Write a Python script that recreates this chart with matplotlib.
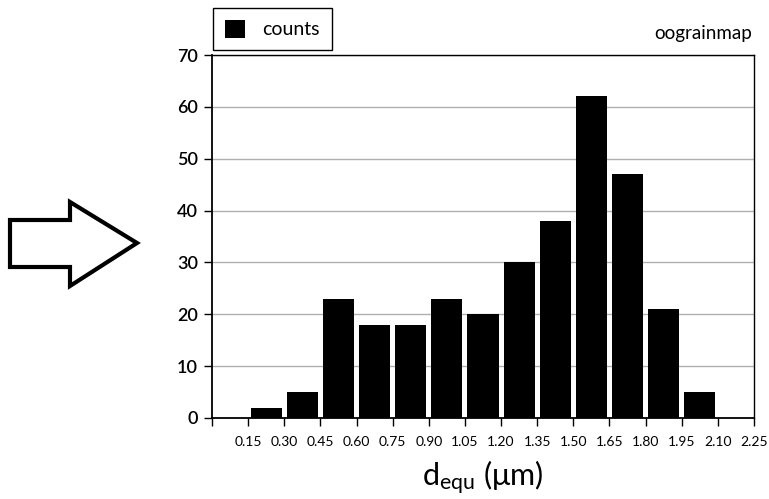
import matplotlib
matplotlib.use("Agg")
import matplotlib.pyplot as plt
import numpy as np
from matplotlib.patches import Polygon

# histogram bins (left edges) and counts
bin_left = [0.15, 0.30, 0.45, 0.60, 0.75, 0.90, 1.05, 1.20, 1.35, 1.50, 1.65, 1.80, 1.95, 2.10]
counts = [2, 5, 23, 18, 18, 23, 20, 30, 38, 62, 47, 21, 5, 0]
xticks = [0.0, 0.15, 0.30, 0.45, 0.60, 0.75, 0.90, 1.05, 1.20, 1.35, 1.50, 1.65, 1.80, 1.95, 2.10, 2.25]
xtick_labels = [""] + ["%.2f" % v for v in xticks[1:]]
yticks = [0, 10, 20, 30, 40, 50, 60, 70]

binw = 0.15
plt.rcParams['font.family'] = ['Lato', 'DejaVu Sans']

W, H = 769, 499
fig = plt.figure(figsize=(W/100, H/100), dpi=100)
ax = fig.add_axes([212/W, 1-418/H, (754-212)/W, (418-55)/H])

centers = np.array(bin_left) + binw/2
ax.bar(centers, counts, width=binw*0.86, color='black', label='counts', zorder=3)

ax.set_xlim(0, 2.25)
ax.set_ylim(0, 70)
ax.set_xticks(xticks)
ax.set_xticklabels(xtick_labels, fontsize=10)
ax.set_yticks(yticks)
ax.set_yticklabels([str(v) for v in yticks], fontsize=13, fontweight='semibold')
ax.tick_params(direction='out', length=6, width=1, colors='black')
ax.tick_params(axis='x', pad=7)
ax.tick_params(axis='y', pad=4)
ax.yaxis.grid(True, color='#b0b0b0', linewidth=1, zorder=0)
for s in ax.spines.values():
    s.set_linewidth(1)
ax.spines['left'].set_linewidth(1.3)
ax.spines['bottom'].set_linewidth(1.3)

ax.set_xlabel(r'$\mathregular{d_{equ}}$ (μm)', fontsize=22, labelpad=8)

leg = ax.legend(loc='upper left', bbox_to_anchor=(213/W, 1-8/H), bbox_transform=fig.transFigure,
                fancybox=False, edgecolor='black', framealpha=1, fontsize=14,
                handlelength=1.05, handleheight=1.05, borderpad=0.6, handletextpad=0.9,
                borderaxespad=0)
leg.get_frame().set_linewidth(1)

fig.text(752/W, 1-33/H, 'oograinmap', ha='right', va='center', fontsize=13.5)

# hollow arrow on the left
arrow_px = [(10, 220), (70, 220), (70, 202), (137, 243), (70, 286), (70, 267), (10, 267)]
arrow = Polygon([(x/W, 1-y/H) for x, y in arrow_px], closed=True, fill=False,
                edgecolor='black', linewidth=3, transform=fig.transFigure, joinstyle='miter')
fig.patches.append(arrow)

fig.savefig('out.png', dpi=100)
